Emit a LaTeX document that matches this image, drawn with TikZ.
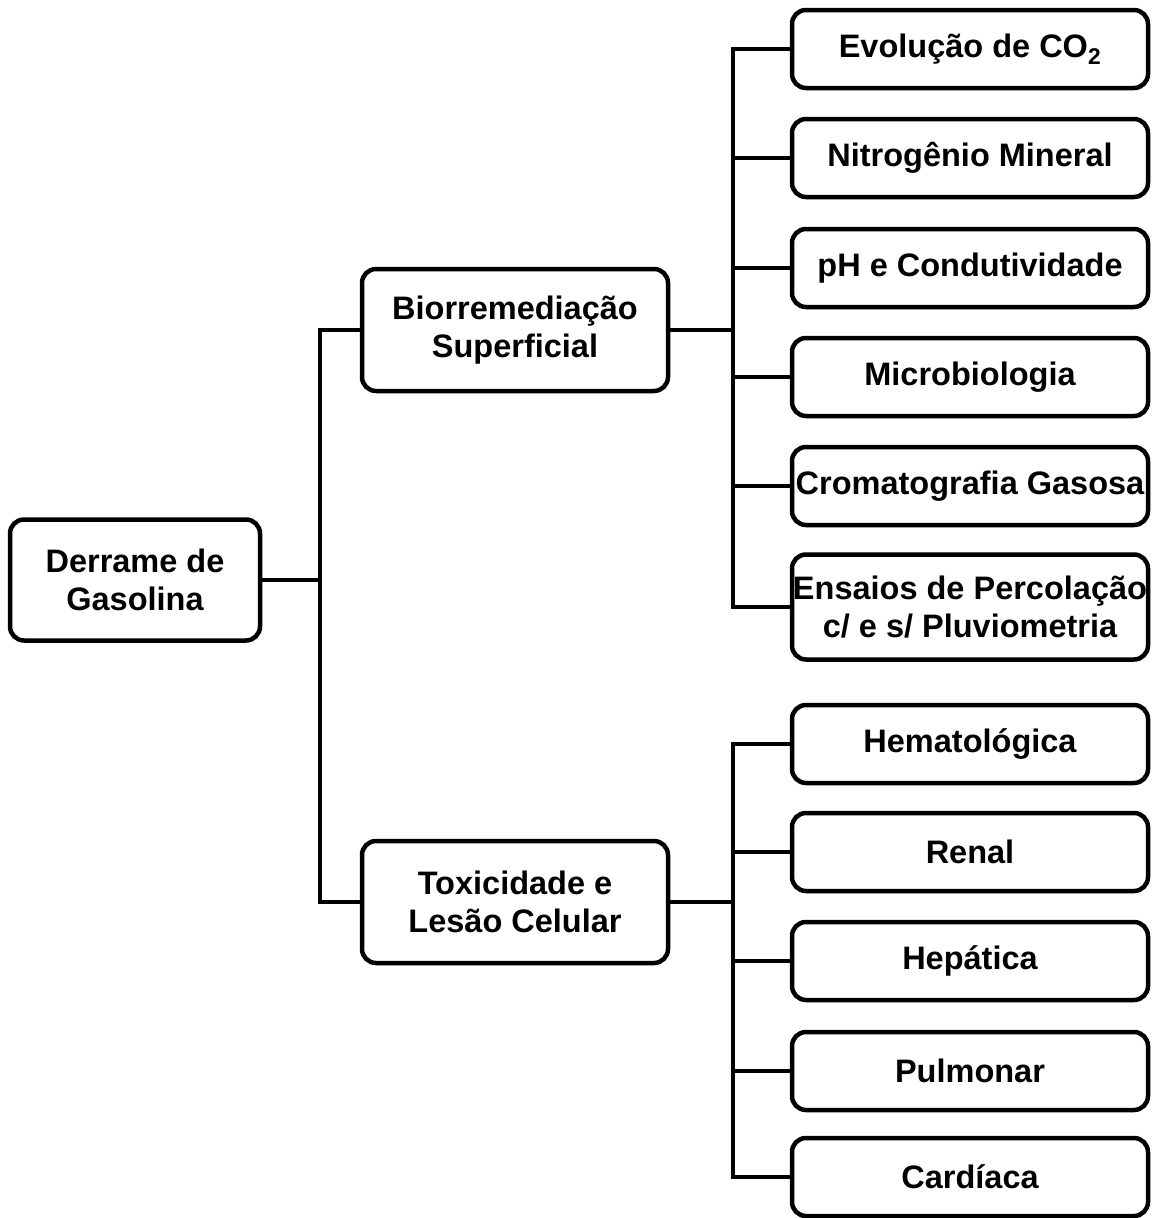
\documentclass[tikz,border=0pt]{standalone}
\usepackage{fontspec}
\setmainfont{Liberation Sans}
\usepackage{tikz}

\begin{document}
\begin{tikzpicture}[x=1pt,y=-1pt,
		caixa/.style={draw,line width=4.5pt,rounded corners=14pt,align=center,
			font=\bfseries\fontsize{32.5}{38}\selectfont,inner sep=0pt},
		folha/.style={caixa,minimum width=356pt,minimum height=78pt},
		ramo/.style={caixa,minimum width=306pt,minimum height=122pt},
		liga/.style={line width=4.5pt,line cap=rect}]
	\useasboundingbox (0,0) rectangle (1152,1218);
	% raiz
	\node [caixa,minimum width=250pt,minimum height=121pt] (derrame) at (135,580) {Derrame de\\Gasolina};
	% ramos
	\node [ramo] (bio) at (515,330) {Biorremediação\\Superficial};
	\node [ramo] (tox) at (515,902) {Toxicidade e\\Lesão Celular};
	% folhas de cima
	\node [folha] (evo) at (970,49) {Evolução de CO\textsubscript{2}};
	\node [folha] (nitro) at (970,158) {Nitrogênio Mineral};
	\node [folha] (ph) at (970,268) {pH e Condutividade};
	\node [folha] (micro) at (970,377) {Microbiologia};
	\node [folha] (croma) at (970,486) {Cromatografia Gasosa};
	\node [folha,minimum height=105pt] (ensaios) at (970,607) {Ensaios de Percolação\\c/ e s/ Pluviometria};
	% folhas de baixo
	\node [folha] (hemato) at (970,744) {Hematológica};
	\node [folha] (renal) at (970,852) {Renal};
	\node [folha] (hepa) at (970,961) {Hepática};
	\node [folha] (pulmo) at (970,1071) {Pulmonar};
	\node [folha] (cardi) at (970,1177) {Cardíaca};
	% ligacoes
	\coordinate (t1) at (320,0);
	\coordinate (t2) at (733,0);
	\draw [liga] (derrame.east) -- (derrame.east -| t1);
	\draw [liga] (bio.west) -- (bio.west -| t1) |- (tox.west);
	\draw [liga] (bio.east) -- (bio.east -| t2);
	\draw [liga] (tox.east) -- (tox.east -| t2);
	\draw [liga] (evo.west -| t2) -- (ensaios.west -| t2);
	\draw [liga] (hemato.west -| t2) -- (cardi.west -| t2);
	\foreach \f in {evo,nitro,ph,micro,croma,ensaios,hemato,renal,hepa,pulmo,cardi}
		\draw [liga] (\f.west) -- (\f.west -| t2);
\end{tikzpicture}
\end{document}
